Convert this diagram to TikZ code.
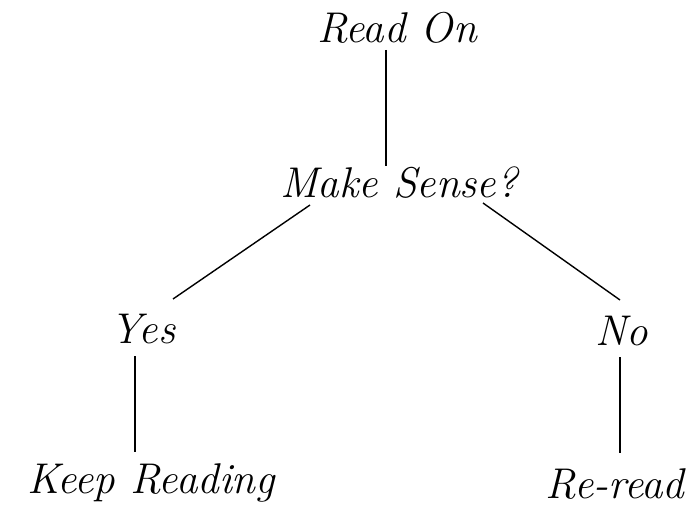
\documentclass[tikz,border=0pt]{standalone}
\begin{document}
\begin{tikzpicture}[x=1pt,y=-1pt,
  lbl/.style={anchor=base,inner sep=0pt,font=\fontsize{43}{47}\selectfont\itshape},
  conn/.style={line width=1.4pt,black}]
\useasboundingbox (0,0) rectangle (700,508);
\node[lbl] (ro) at (397,43) {Read On};
\node[lbl] (ms) at (399,197) {Make Sense?};
\node[lbl] (yes) at (143,343) {Yes};
\node[lbl] (no) at (622,345) {No};
\node[lbl] (kr) at (151,493) {Keep Reading};
\node[lbl] (rr) at (615,498) {Re-read};
\coordinate (roB) at (386,50);
\coordinate (msT) at (386,166);
\coordinate (msL) at (310,205);
\coordinate (msR) at (483,203);
\coordinate (yesT) at (173,299);
\coordinate (noT) at (620,300);
\coordinate (yesB) at (135,356);
\coordinate (krT) at (135,452);
\coordinate (noB) at (620,357);
\coordinate (rrT) at (620,453);
\draw[conn] (roB) -- (msT);
\draw[conn] (msL) -- (yesT);
\draw[conn] (msR) -- (noT);
\draw[conn] (yesB) -- (krT);
\draw[conn] (noB) -- (rrT);
\end{tikzpicture}
\end{document}
